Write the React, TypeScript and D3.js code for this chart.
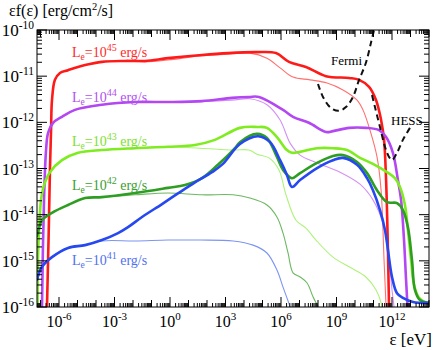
import React from 'react'
import * as d3 from 'd3'

// all points are [log10(eps / eV), log10(eps f(eps) / erg cm^-2 s^-1)]
type P = [number, number]

const red45: P[] = [[-6.68,-16.17],[-6.65,-16],[-6.49,-13.03],[-6.43,-12.17],[-6.38,-11.52],[-6.22,-11.08],[-5.95,-10.93],[-5.51,-10.87],[-4.59,-10.76],[-3.68,-10.69],[-2.43,-10.67],[-1.35,-10.67],[-0.11,-10.61],[1.73,-10.54],[3.14,-10.5],[4.65,-10.48],[5.73,-10.5],[6.43,-10.69],[7.35,-10.8],[8.43,-11.0],[9.68,-11.04],[10.22,-11.08],[10.76,-11.23],[11.14,-11.52],[11.41,-11.95],[11.57,-12.38],[11.68,-13.25],[11.78,-14.76],[11.84,-16],[11.86,-16.17]]
const red45Syn: P[] = [[-6.68,-16.17],[-6.65,-16],[-6.49,-13.03],[-6.43,-12.17],[-6.38,-11.52],[-6.22,-11.08],[-5.95,-10.93],[-5.51,-10.87],[-4.59,-10.76],[-3.68,-10.69],[-2.43,-10.67],[-1.35,-10.69],[-0.11,-10.65],[1.62,-10.56],[3.24,-10.52],[4.32,-10.5],[5.24,-10.61],[5.95,-10.82],[6.65,-11.02],[7.57,-11.08],[8.49,-11.15],[9.35,-11.3],[10.11,-11.52],[10.43,-11.73],[10.81,-12.17],[11.19,-12.75],[11.41,-13.47],[11.57,-14.98],[11.68,-16],[11.7,-16.17]]

const purple44: P[] = [[-6.92,-16.17],[-6.92,-16],[-6.81,-13.68],[-6.7,-12.6],[-6.59,-12.23],[-6.32,-12.01],[-5.84,-11.88],[-5.14,-11.73],[-3.68,-11.62],[-1.89,-11.56],[-0.11,-11.56],[1.73,-11.54],[3.35,-11.47],[4.27,-11.45],[4.81,-11.45],[6.11,-11.73],[6.65,-11.88],[7.51,-12.01],[8.43,-12.21],[8.81,-12.19],[9.68,-12.12],[10.59,-12.12],[11.3,-12.17],[11.68,-12.32],[12.05,-12.66],[12.32,-13.25],[12.49,-13.68],[12.65,-14.55],[12.76,-15.41],[12.84,-16],[12.86,-16.17]]
const purple44Syn: P[] = [[-6.92,-16.17],[-6.92,-16],[-6.81,-13.68],[-6.7,-12.6],[-6.59,-12.23],[-6.32,-12.01],[-5.84,-11.88],[-5.14,-11.73],[-3.68,-11.62],[-1.89,-11.56],[-0.11,-11.57],[1.73,-11.55],[3.35,-11.52],[4.32,-11.49],[5.24,-11.62],[5.95,-11.95],[6.49,-12.45],[7.03,-12.71],[7.95,-12.88],[9.19,-13.08],[10.27,-13.34],[10.97,-13.68],[11.51,-14.18],[11.78,-14.76],[12.0,-15.63],[12.11,-16],[12.14,-16.17]]

const lime43: P[] = [[-7.17,-16.17],[-7.16,-16],[-7.14,-14.98],[-7.08,-14.33],[-6.97,-13.68],[-6.81,-13.36],[-6.49,-13.08],[-5.84,-12.82],[-4.97,-12.66],[-3.68,-12.6],[-1.89,-12.56],[-0.11,-12.53],[1.35,-12.49],[2.43,-12.38],[3.78,-12.12],[4.7,-12.1],[5.24,-12.12],[5.78,-12.32],[6.32,-12.6],[6.59,-12.66],[7.03,-12.64],[7.95,-12.56],[8.81,-12.56],[9.57,-12.6],[10.27,-12.77],[10.97,-12.9],[11.73,-13.08],[12.16,-13.21],[12.43,-13.4],[12.7,-13.79],[12.86,-14.33],[13.03,-14.98],[13.19,-15.52],[13.46,-15.8],[13.84,-15.91],[14.05,-15.93]]
const lime43Syn: P[] = [[-7.17,-16.17],[-7.16,-16],[-7.14,-14.98],[-7.08,-14.33],[-6.97,-13.68],[-6.81,-13.36],[-6.49,-13.08],[-5.84,-12.82],[-4.97,-12.66],[-3.68,-12.6],[-1.89,-12.56],[-0.11,-12.53],[1.62,-12.56],[3.41,-12.6],[4.27,-12.6],[4.7,-12.69],[5.35,-12.77],[5.89,-13.03],[6.27,-13.57],[6.81,-14.12],[7.35,-14.29],[7.89,-14.55],[8.81,-14.92],[9.68,-15.13],[10.59,-15.35],[11.14,-15.63],[11.41,-15.91],[11.51,-16.17]]

const green42: P[] = [[-7.19,-14.46],[-7.08,-14.29],[-6.92,-14.12],[-6.38,-13.96],[-5.51,-13.79],[-4.59,-13.64],[-3.68,-13.62],[-1.89,-13.53],[-0.11,-13.42],[0.81,-13.36],[1.73,-13.21],[2.59,-12.92],[3.51,-12.56],[3.78,-12.43],[4.7,-12.25],[5.24,-12.34],[5.78,-12.75],[6.11,-13.03],[6.59,-13.21],[7.03,-13.1],[7.95,-12.88],[8.81,-12.73],[9.35,-12.71],[10.11,-12.86],[10.65,-13.1],[11.19,-13.47],[11.73,-13.73],[12.27,-13.75],[12.59,-13.9],[12.86,-14.27],[13.08,-14.98],[13.24,-15.63],[13.51,-15.85],[14.05,-15.91]]
const green42Syn: P[] = [[-7.19,-14.46],[-7.08,-14.29],[-6.92,-14.12],[-6.38,-13.96],[-5.51,-13.79],[-4.59,-13.64],[-3.68,-13.62],[-1.89,-13.57],[-0.11,-13.53],[1.73,-13.57],[3.41,-13.57],[4.32,-13.64],[5.24,-13.79],[5.78,-14.05],[6.11,-14.4],[6.38,-14.83],[6.65,-15.26],[7.03,-15.35],[7.41,-15.48],[7.73,-15.78],[8.0,-16],[8.11,-16.17]]

const blue41: P[] = [[-7.19,-15.41],[-6.92,-15.13],[-6.38,-14.92],[-5.51,-14.72],[-4.59,-14.66],[-3.68,-14.55],[-2.81,-14.4],[-2.27,-14.27],[-1.51,-14.05],[-0.43,-13.77],[0.43,-13.54],[1.35,-13.3],[2.27,-13.08],[2.86,-12.9],[3.78,-12.47],[4.76,-12.3],[5.41,-12.43],[5.95,-12.82],[6.32,-13.14],[6.59,-13.4],[7.03,-13.25],[7.95,-12.99],[8.81,-12.82],[9.35,-12.77],[10.11,-12.92],[10.65,-13.21],[10.97,-13.47],[11.35,-13.9],[11.62,-14.33],[11.78,-14.76],[12.0,-15.35],[12.27,-15.7],[12.59,-15.8],[13.14,-15.89],[14.05,-15.91]]
const blue41Syn: P[] = [[-7.19,-15.41],[-6.92,-15.13],[-6.38,-14.92],[-5.51,-14.72],[-4.59,-14.66],[-3.68,-14.57],[-1.89,-14.57],[-0.11,-14.55],[1.62,-14.55],[3.41,-14.57],[4.49,-14.66],[5.24,-14.83],[5.78,-15.2],[6.11,-15.57],[6.49,-16],[6.59,-16.17]]

const fermi: P[] = [[8.0,-11.17],[8.27,-11.45],[8.7,-11.69],[9.14,-11.75],[9.51,-11.67],[9.89,-11.45],[10.22,-11.08],[10.59,-10.71],[10.86,-10.28],[11.03,-10.0]]
const hess: P[] = [[10.92,-11.41],[11.08,-11.67],[11.35,-12.1],[11.62,-12.53],[11.84,-12.75],[12.0,-12.82],[12.27,-12.66],[12.59,-12.38],[12.97,-12.12]]

const series = [
  { total: red45, syn: red45Syn, color: '#ff1a1a', thin: '#ff7070', exp: '45', labelColor: '#ff2a2a' },
  { total: purple44, syn: purple44Syn, color: '#b347f2', thin: '#d490f5', exp: '44', labelColor: '#b050f0' },
  { total: lime43, syn: lime43Syn, color: '#7eec1e', thin: '#aef27a', exp: '43', labelColor: '#80e030' },
  { total: green42, syn: green42Syn, color: '#2e9e22', thin: '#6cb860', exp: '42', labelColor: '#3aa030' },
  { total: blue41, syn: blue41Syn, color: '#2548f0', thin: '#7d95f2', exp: '41', labelColor: '#5070f0' },
]
const labelBaselines = [57, 102, 146, 190, 265]

const xLabelDecades = [-6, -3, 0, 3, 6, 9, 12]
const yLabelDecades = [-10, -11, -12, -13, -14, -15, -16]

const L = 37, R = 429, T = 30, B = 307
const serif = "'Liberation Serif', 'Times New Roman', Times, serif"

export default function App() {
  const x = d3.scaleLog().domain([Math.pow(10, -7.19), 1e14]).range([L, R])
  const y = d3.scaleLog().domain([1e-16, 1e-10]).range([B, T])
  const line = d3
    .line<P>()
    .x((d) => x(Math.pow(10, d[0])))
    .y((d) => y(Math.pow(10, d[1])))
    .curve(d3.curveCatmullRom.alpha(0.5))

  // log ticks
  const xTicks: { v: number; len: number }[] = []
  for (let d = -8; d <= 14; d++) {
    for (let k = 1; k <= 9; k++) {
      const v = k * Math.pow(10, d)
      if (v < x.domain()[0] || v > x.domain()[1] * 1.0001) continue
      const len = k === 1 ? (d % 3 === 0 ? 10 : 7) : 4
      xTicks.push({ v, len })
    }
  }
  const yTicks: { v: number; len: number }[] = []
  for (let d = -16; d <= -10; d++) {
    for (let k = 1; k <= 9; k++) {
      const v = k * Math.pow(10, d)
      if (v < 0.9999e-16 || v > 1.0001e-10) continue
      yTicks.push({ v, len: k === 1 ? 10 : 5 })
    }
  }

  return (
    <svg width={436} height={350} style={{ position: 'absolute', left: 0, top: 0, background: '#fff', fontFamily: serif }}>
      <defs>
        <clipPath id="plot">
          <rect x={L} y={T} width={R - L} height={B - T} />
        </clipPath>
      </defs>
      <rect x={0} y={0} width={436} height={350} fill="#fff" />

      <g clipPath="url(#plot)" fill="none" strokeLinejoin="round" strokeLinecap="round">
        {series.map((s, i) => (
          <path key={'s' + i} d={line(s.syn) || ''} stroke={s.thin} strokeWidth={1.1} />
        ))}
        {series.map((s, i) => (
          <path key={'t' + i} d={line(s.total) || ''} stroke={s.color} strokeWidth={2.6} />
        ))}
        <path d={line(fermi) || ''} stroke="#111" strokeWidth={2} strokeDasharray="6 4" strokeLinecap="butt" />
        <path d={line(hess) || ''} stroke="#111" strokeWidth={2} strokeDasharray="6 4" strokeLinecap="butt" />
      </g>

      {/* frame and ticks */}
      <rect x={L} y={T} width={R - L} height={B - T} fill="none" stroke="#000" strokeWidth={1} />
      <g stroke="#000" strokeWidth={1}>
        {xTicks.map((t, i) => (
          <g key={'xt' + i}>
            <line x1={x(t.v)} x2={x(t.v)} y1={B} y2={B - t.len} />
            <line x1={x(t.v)} x2={x(t.v)} y1={T} y2={T + t.len} />
          </g>
        ))}
        {yTicks.map((t, i) => (
          <g key={'yt' + i}>
            <line x1={L} x2={L + t.len} y1={y(t.v)} y2={y(t.v)} />
            <line x1={R} x2={R - t.len} y1={y(t.v)} y2={y(t.v)} />
          </g>
        ))}
      </g>

      {xLabelDecades.map((d) => (
        <text key={'xl' + d} x={x(Math.pow(10, d))} y={327} textAnchor="middle" fontSize={16}>
          10<tspan dy={-7} fontSize={11}>{d}</tspan>
        </text>
      ))}
      {yLabelDecades.map((d) => (
        <text key={'yl' + d} x={34} y={y(Math.pow(10, d)) + 6} textAnchor="end" fontSize={17}>
          10<tspan dy={-7} fontSize={11.5}>{d}</tspan>
        </text>
      ))}

      <text x={9} y={16} fontSize={16}>
        εf(ε) [erg/cm<tspan dy={-6} fontSize={10.5}>2</tspan><tspan dy={6}>/s]</tspan>
      </text>
      <text x={432} y={345} textAnchor="end" fontSize={17}>ε [eV]</text>

      {series.map((s, i) => (
        <text key={'lab' + i} x={72} y={labelBaselines[i]} fontSize={14} fill={s.labelColor}>
          L<tspan dy={3} fontSize={9.5}>e</tspan>
          <tspan dy={-3}>=10</tspan>
          <tspan dy={-6} fontSize={10}>{s.exp}</tspan>
          <tspan dy={6}> erg/s</tspan>
        </text>
      ))}

      <text x={331} y={65} fontSize={13}>Fermi</text>
      <text x={391} y={125} fontSize={13}>HESS</text>
    </svg>
  )
}
